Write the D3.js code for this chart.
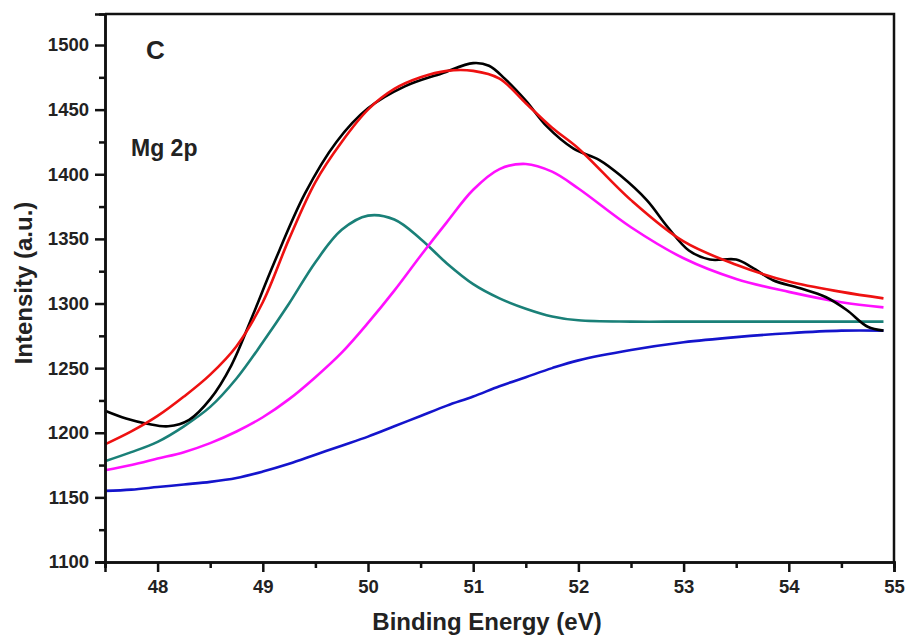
<!DOCTYPE html>
<html>
<head>
<meta charset="utf-8">
<script src="https://cdn.jsdelivr.net/npm/d3@7"></script>
<style>
  body { margin: 0; background: #fff; overflow: hidden; }
  svg { display: block; }
  text { font-family: Arial, "Liberation Sans", sans-serif; font-weight: bold; fill: #222; }
</style>
</head>
<body>
<div id="chart"></div>
<script>
// Mg 2p spectrum (binding energy in eV, intensity in a.u.)
var rawEnergy = [47.5, 47.7, 47.9, 48.1, 48.3, 48.5, 48.7, 48.9, 49.1, 49.4, 49.7, 50.0, 50.35, 50.7,
                 51.0, 51.15, 51.3, 51.5, 51.7, 51.95, 52.2, 52.4, 52.65, 52.85, 53.05, 53.25, 53.5,
                 53.65, 53.85, 54.1, 54.35, 54.55, 54.75, 54.9];
var rawIntensity = [1217, 1211, 1207, 1205, 1210, 1226, 1252, 1290, 1330, 1385, 1425, 1451, 1468, 1478,
                    1486, 1484, 1474, 1457, 1437, 1420, 1411, 1399, 1380, 1359, 1341, 1334, 1334,
                    1328, 1318, 1312, 1305, 1295, 1282, 1279];

var fitEnergy = [47.5, 47.75, 48.0, 48.25, 48.5, 48.75, 49.0, 49.25, 49.5, 49.75, 50.0, 50.25, 50.5,
                 50.75, 51.0, 51.25, 51.5, 51.75, 52.0, 52.5, 53.0, 53.5, 54.0, 54.5, 54.9];
var envelope = [1191, 1201, 1213, 1228, 1245, 1267, 1301, 1350, 1394, 1425, 1450, 1466, 1475,
                1480, 1480, 1474, 1455, 1436, 1420, 1380, 1348, 1330, 1317, 1309, 1304];
var peakLow = [1178, 1185, 1193, 1205, 1220, 1242, 1270, 1300, 1332, 1357, 1368, 1365, 1350,
               1331, 1315, 1304, 1296, 1290, 1287, 1286, 1286, 1286, 1286, 1286, 1286];
var peakHigh = [1171, 1175, 1180, 1185, 1192, 1201, 1212, 1226, 1243, 1262, 1285, 1310, 1337,
                1363, 1388, 1404, 1408, 1402, 1389, 1359, 1335, 1319, 1309, 1301, 1297];
var background = [1155, 1156, 1158, 1160, 1162, 1165, 1170, 1176, 1183, 1190, 1197, 1205, 1213,
                  1221, 1228, 1236, 1243, 1250, 1256, 1264, 1270, 1274, 1277, 1279, 1279];

var xTicks = [48, 49, 50, 51, 52, 53, 54, 55];
var yTicks = [1100, 1150, 1200, 1250, 1300, 1350, 1400, 1450, 1500];

var width = 907;
var height = 640;
var margin = { top: 14, right: 13, bottom: 78, left: 105 };
var innerWidth = width - margin.left - margin.right;
var innerHeight = height - margin.top - margin.bottom;

var x = d3.scaleLinear()
          .domain([47.5, 55])
          .range([0, innerWidth]);
var y = d3.scaleLinear()
          .domain([1100, 1524])
          .range([innerHeight, 0]);

var svg = d3.select('#chart')
            .append('svg')
            .attr('width', width)
            .attr('height', height);

var g = svg.append('g')
           .attr('transform', 'translate(' + margin.left + ',' + margin.top + ')');

// Curves
var line = d3.line()
             .x(function (d) { return x(d[0]); })
             .y(function (d) { return y(d[1]); })
             .curve(d3.curveCatmullRom.alpha(0.5));

function pairs(xs, ys) {
  return xs.map(function (v, i) { return [v, ys[i]]; });
}

var series = [
  { values: pairs(fitEnergy, background), color: '#1414cc' },
  { values: pairs(fitEnergy, peakLow), color: '#1a8078' },
  { values: pairs(fitEnergy, peakHigh), color: '#ff10ff' },
  { values: pairs(rawEnergy, rawIntensity), color: '#000000' },
  { values: pairs(fitEnergy, envelope), color: '#ee1111' }
];

g.selectAll('.curve')
 .data(series)
 .enter()
 .append('path')
 .attr('class', 'curve')
 .attr('fill', 'none')
 .attr('stroke', function (d) { return d.color; })
 .attr('stroke-width', 2.6)
 .attr('d', function (d) { return line(d.values); });

// Frame (top and right edges)
g.append('path')
 .attr('fill', 'none')
 .attr('stroke', '#111')
 .attr('stroke-width', 2.5)
 .attr('d', 'M0,0H' + innerWidth + 'V' + innerHeight);

// Axes with major and minor ticks
var xMinor = d3.range(47.5, 55.01, 0.5).filter(function (v) { return xTicks.indexOf(v) < 0; });
var yMinor = d3.range(1125, 1524, 50);

var xAxis = g.append('g')
             .attr('transform', 'translate(0,' + innerHeight + ')')
             .call(d3.axisBottom(x).tickValues(xTicks).tickFormat(d3.format('d')).tickSize(10).tickPadding(8));
var xAxisMinor = g.append('g')
                  .attr('transform', 'translate(0,' + innerHeight + ')')
                  .call(d3.axisBottom(x).tickValues(xMinor).tickSize(6));
var yAxis = g.append('g')
             .call(d3.axisLeft(y).tickValues(yTicks).tickFormat(d3.format('d')).tickSize(10).tickPadding(6));
var yAxisMinor = g.append('g')
                  .call(d3.axisLeft(y).tickValues(yMinor).tickSize(6));

// minor ticks carry no labels
xAxisMinor.selectAll('.tick text').remove();
yAxisMinor.selectAll('.tick text').remove();

[xAxis, xAxisMinor, yAxis, yAxisMinor].forEach(function (a) {
  a.select('.domain')
   .attr('stroke', '#111')
   .attr('stroke-width', 2.5);
  a.selectAll('.tick line')
   .attr('stroke', '#111')
   .attr('stroke-width', 2.5);
  a.selectAll('.tick text')
   .attr('font-size', 18.5)
   .attr('font-family', 'Arial, "Liberation Sans", sans-serif')
   .attr('font-weight', 'bold')
   .attr('fill', '#222');
});

// Titles and annotations
svg.append('text')
   .attr('x', 487)
   .attr('y', 630)
   .attr('text-anchor', 'middle')
   .attr('font-size', 24)
   .text('Binding Energy (eV)');

svg.append('text')
   .attr('transform', 'translate(32,283) rotate(-90)')
   .attr('text-anchor', 'middle')
   .attr('font-size', 24)
   .text('Intensity (a.u.)');

g.append('text')
 .attr('x', 41)
 .attr('y', 45)
 .attr('font-size', 26)
 .text('C');

g.append('text')
 .attr('x', 26)
 .attr('y', 142)
 .attr('font-size', 23)
 .text('Mg 2p');
</script>
</body>
</html>
